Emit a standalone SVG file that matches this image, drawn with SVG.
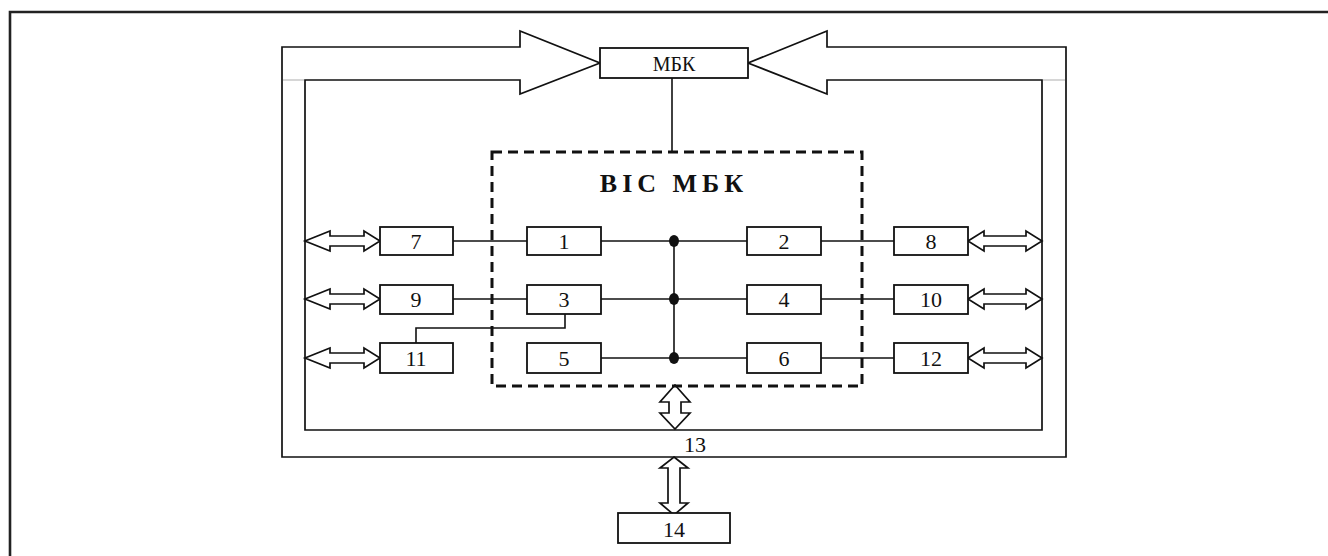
<svg xmlns="http://www.w3.org/2000/svg" width="1328" height="556" viewBox="0 0 1328 556">
<style>
.ln{stroke:#111;stroke-width:1.6;fill:none}
.bx{stroke:#111;stroke-width:1.8;fill:#fff}
.ar{stroke:#111;stroke-width:1.7;fill:#fff;stroke-linejoin:miter}
.t{font-family:"Liberation Serif","Times New Roman",serif;font-size:22px;fill:#111;text-anchor:middle}
.title{font-family:"Liberation Serif","Times New Roman",serif;font-size:26px;font-weight:bold;fill:#111;text-anchor:middle;letter-spacing:5px}
</style>
<rect width="1328" height="556" fill="#fff"/>
<path d="M10,556 V12 H1328" stroke="#222" stroke-width="2.6" fill="none"/>

<g id="bus">
<polygon class="ar" points="520,47 282,47 282,457 1066,457 1066,47 827,47 827,31 748,63 827,94 827,80 1042,80 1042,430 305,430 305,80 520,80 520,94 600,63 520,31"/>
<line x1="283" y1="80" x2="304" y2="80" stroke="#bbb" stroke-width="1.2"/>
<line x1="1043" y1="80" x2="1065" y2="80" stroke="#bbb" stroke-width="1.2"/>
<text class="t" x="695" y="452">13</text>
</g>

<g id="connectors">
<line class="ln" x1="672" y1="78" x2="672" y2="152"/>
<line class="ln" x1="453" y1="241" x2="527" y2="241"/>
<line class="ln" x1="601" y1="241" x2="747" y2="241"/>
<line class="ln" x1="821" y1="241" x2="894" y2="241"/>
<line class="ln" x1="453" y1="299" x2="527" y2="299"/>
<line class="ln" x1="601" y1="299" x2="747" y2="299"/>
<line class="ln" x1="821" y1="299" x2="894" y2="299"/>
<line class="ln" x1="601" y1="358" x2="747" y2="358"/>
<line class="ln" x1="821" y1="358" x2="894" y2="358"/>
<line class="ln" x1="674" y1="241" x2="674" y2="358"/>
<polyline class="ln" points="565,314 565,328 416,328 416,343"/>
<ellipse cx="674" cy="241" rx="5" ry="6" fill="#111"/>
<ellipse cx="674" cy="299" rx="5" ry="6" fill="#111"/>
<ellipse cx="674" cy="358" rx="5" ry="6" fill="#111"/>
<polygon class="ar" points="305,241 330,231 330,236 364,236 364,231 380,241 364,251 364,246 330,246 330,251"/>
<polygon class="ar" points="305,299 330,289 330,294 364,294 364,289 380,299 364,309 364,304 330,304 330,309"/>
<polygon class="ar" points="305,358 330,348 330,353 364,353 364,348 380,358 364,368 364,363 330,363 330,368"/>
<polygon class="ar" points="968,241 984,231 984,236 1026,236 1026,231 1042,241 1026,251 1026,246 984,246 984,251"/>
<polygon class="ar" points="968,299 984,289 984,294 1026,294 1026,289 1042,299 1026,309 1026,304 984,304 984,309"/>
<polygon class="ar" points="968,358 984,348 984,353 1026,353 1026,348 1042,358 1026,368 1026,363 984,363 984,368"/>
<polygon class="ar" points="675,385 690,402 681,402 681,413 690,413 675,429 660,413 669,413 669,402 660,402"/>
<polygon class="ar" points="674,457 688,468 680,468 680,503 688,503 674,515 660,503 668,503 668,468 660,468"/>
</g>

<g id="vis">
<rect x="492" y="152" width="370" height="234" fill="none" stroke="#111" stroke-width="3" stroke-dasharray="10,6"/>
<text class="title" x="674" y="192">ВІС МБК</text>
</g>

<g id="mbk"><rect class="bx" x="600" y="48" width="148" height="30"/><text class="t" x="674" y="71" style="font-size:20px">МБК</text></g>
<g id="n1"><rect class="bx" x="527" y="227" width="74" height="28"/><text class="t" x="564" y="249">1</text></g>
<g id="n2"><rect class="bx" x="747" y="227" width="74" height="28"/><text class="t" x="784" y="249">2</text></g>
<g id="n3"><rect class="bx" x="527" y="285" width="74" height="29"/><text class="t" x="564" y="307">3</text></g>
<g id="n4"><rect class="bx" x="747" y="285" width="74" height="29"/><text class="t" x="784" y="307">4</text></g>
<g id="n5"><rect class="bx" x="527" y="343" width="74" height="30"/><text class="t" x="564" y="366">5</text></g>
<g id="n6"><rect class="bx" x="747" y="343" width="74" height="30"/><text class="t" x="784" y="366">6</text></g>
<g id="n7"><rect class="bx" x="380" y="227" width="73" height="28"/><text class="t" x="416" y="249">7</text></g>
<g id="n8"><rect class="bx" x="894" y="227" width="74" height="28"/><text class="t" x="931" y="249">8</text></g>
<g id="n9"><rect class="bx" x="380" y="285" width="73" height="29"/><text class="t" x="416" y="307">9</text></g>
<g id="n10"><rect class="bx" x="894" y="285" width="74" height="29"/><text class="t" x="931" y="307">10</text></g>
<g id="n11"><rect class="bx" x="380" y="343" width="73" height="30"/><text class="t" x="416" y="366">11</text></g>
<g id="n12"><rect class="bx" x="894" y="343" width="74" height="30"/><text class="t" x="931" y="366">12</text></g>
<g id="n14"><rect class="bx" x="618" y="513" width="112" height="30"/><text class="t" x="674" y="537">14</text></g>
</svg>
